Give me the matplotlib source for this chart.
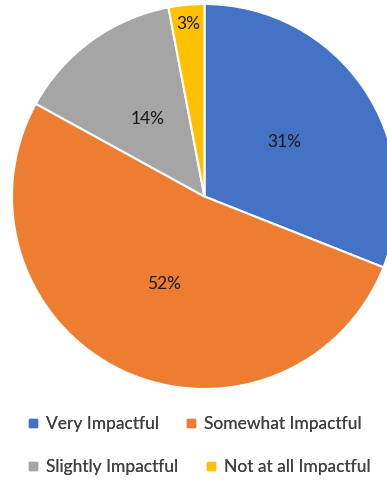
import matplotlib.pyplot as plt
import numpy as np
from matplotlib.lines import Line2D

categories = ['Very Impactful', 'Somewhat Impactful', 'Slightly Impactful', 'Not at all Impactful']
shares = [31, 52, 14, 3]
colors = ['#4472C4', '#ED7D31', '#A5A5A5', '#FFC000']
label_radius = [0.5, 0.5, 0.5, 0.9]

plt.rcParams['font.family'] = ['Lato', 'DejaVu Sans']

fig = plt.figure(figsize=(3.87, 4.82), dpi=100)
ax = fig.add_axes([12 / 387, 93 / 482, 385 / 387, 385 / 482])

wedges, _ = ax.pie(
    shares, colors=colors, startangle=90, counterclock=False,
    wedgeprops=dict(edgecolor='white', linewidth=1.5),
)
for w in wedges:
    w.set_clip_on(False)

# percentage labels at the middle of each wedge
for w, r, v in zip(wedges, label_radius, shares):
    mid = np.deg2rad((w.theta1 + w.theta2) / 2)
    ax.text(r * np.cos(mid), r * np.sin(mid), f'{v}%',
            ha='center', va='center', fontsize=12.5, color='#1a1a1a')

ax.set_xlim(-1, 1)
ax.set_ylim(-1, 1)
ax.set_aspect('equal')
ax.axis('off')

# two legend rows, each laid out on its own (columns not aligned)
for row, y in [(0, 424), (1, 467)]:
    idx = [2 * row, 2 * row + 1]
    handles = [Line2D([], [], marker='s', linestyle='', markersize=6,
                      color=colors[i]) for i in idx]
    labels = [categories[i] for i in idx]
    leg = fig.legend(handles, labels, ncol=2, loc='center left',
                     bbox_to_anchor=(28 / 387, 1 - y / 482), frameon=False,
                     fontsize=12.5, labelcolor='#404040', handlelength=0.6,
                     handletextpad=0.45, columnspacing=1.55, borderaxespad=0,
                     borderpad=0)
    fig.add_artist(leg)

fig.savefig('out.png', dpi=100)
